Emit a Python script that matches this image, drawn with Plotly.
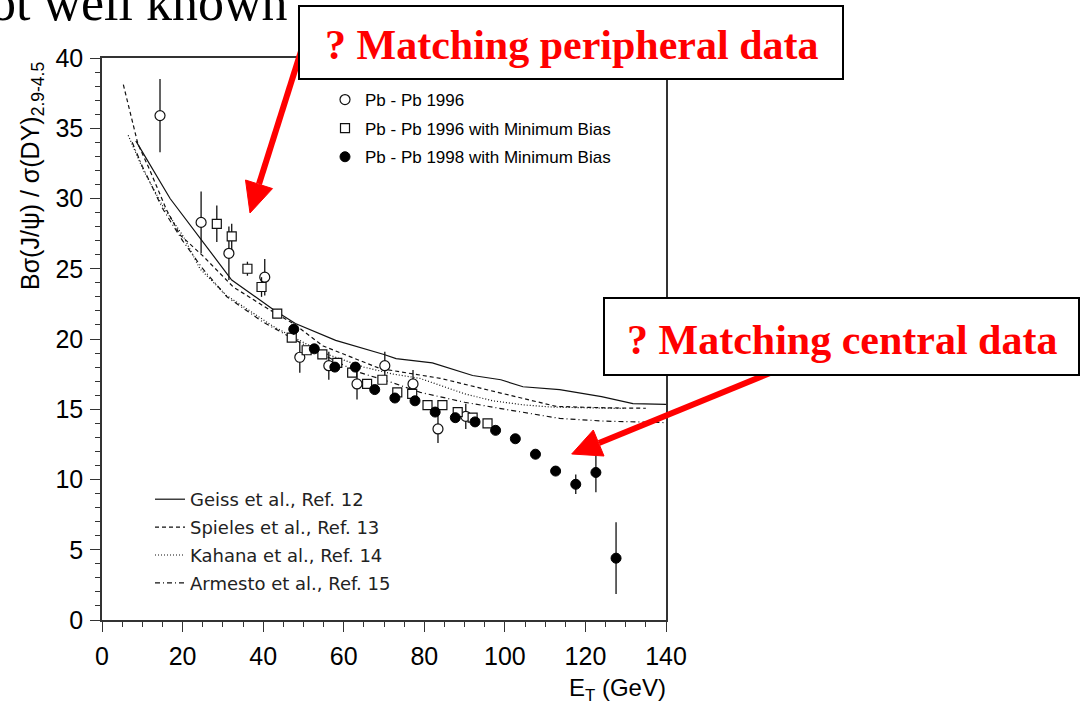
import plotly.graph_objects as go

# ---------------- data ----------------
pb96_et = [14.4, 24.6, 31.5, 40.4, 49.1, 56.3, 63.3, 70.2, 77.2, 83.4, 90.3]
pb96_val = [35.9, 28.3, 26.1, 24.4, 18.7, 18.1, 16.8, 18.1, 16.8, 13.6, 14.5]
pb96_err = [2.6, 2.2, 1.9, 1.3, 1.1, 1.0, 1.1, 1.0, 1.0, 1.0, 0.9]

pb96mb_et = [28.5, 32.2, 36.1, 39.6, 43.5, 47.1, 50.8, 54.7, 58.4, 62.1,
             65.8, 69.6, 73.3, 77.0, 80.8, 84.5, 88.3, 92.0, 95.7]
pb96mb_val = [28.2, 27.3, 25.0, 23.7, 21.8, 20.1, 19.2, 18.9, 18.3, 17.6,
              16.8, 17.1, 16.2, 16.1, 15.3, 15.3, 14.8, 14.4, 14.0]
pb96mb_err = [1.3, 0.9, 0.5, 0.7, 0.3, 0.3, 0.3, 0.3, 0.3, 0.3,
              0.3, 0.3, 0.3, 0.3, 0.3, 0.3, 0.3, 0.3, 0.3]

pb98mb_et = [47.6, 52.7, 57.8, 62.9, 67.7, 72.7, 77.7, 82.7, 87.7, 92.6,
             97.7, 102.6, 107.6, 112.6, 117.6, 122.6, 127.6]
pb98mb_val = [20.7, 19.3, 18.0, 18.0, 16.4, 15.8, 15.6, 14.8, 14.4, 14.1,
              13.5, 12.9, 11.8, 10.6, 9.66, 10.5, 4.4]
pb98mb_err = [0.4, 0.3, 0.3, 0.3, 0.3, 0.3, 0.3, 0.3, 0.3, 0.3,
              0.3, 0.3, 0.3, 0.3, 0.7, 1.4, 2.55]

geiss_et = [8.4, 16.9, 32.2, 42.5, 48, 58, 70, 73, 82, 92, 99, 104.5, 113.6, 124, 131.8, 140]
geiss_val = [34.1, 30.0, 24.2, 22.1, 21.1, 19.9, 18.9, 18.6, 18.3, 17.4, 17.1, 16.6, 16.4, 15.9, 15.4, 15.35]

spieles_et = [5.3, 8.9, 11.9, 16, 19.4, 25.1, 32.6, 40.9, 47.5, 54.9, 69, 84, 99, 112.8, 125, 135]
spieles_val = [38.1, 33.9, 32.0, 29.2, 27.4, 25.9, 23.7, 22.2, 21.1, 19.5, 17.9, 17.2, 16.15, 15.2, 15.1, 15.07]

kahana_et = [6.5, 10.3, 15.2, 20.2, 24.3, 30.9, 42.5, 55, 65, 72.3, 78.9, 84, 90, 97, 105, 112, 122, 130]
kahana_val = [34.5, 32.0, 29.4, 27.3, 25.0, 23.1, 20.9, 19.0, 18.0, 17.5, 17.2, 16.7, 16.1, 15.6, 15.3, 15.15, 15.1, 15.05]

armesto_et = [7.5, 10, 15, 20, 25, 31, 40, 45, 52, 63, 72, 79, 84, 90, 100, 113.6, 125, 140]
armesto_val = [34.0, 32.3, 29.3, 27.0, 25.0, 23.0, 21.2, 20.4, 19.3, 17.7, 16.9, 16.2, 15.9, 15.5, 15.0, 14.35, 14.15, 14.05]

x_ticks = [0, 20, 40, 60, 80, 100, 120, 140]
y_ticks = [0, 5, 10, 15, 20, 25, 30, 35, 40]

# ---------------- layout helpers (pixel -> paper) ----------------
W, H = 1085, 708
L, R, T, B = 102, 666, 58, 620


def px(x):
    return (x - L) / (R - L)


def py(y):
    return (B - y) / (B - T)


fig = go.Figure()

line_specs = [
    ("Geiss et al., Ref. 12", geiss_et, geiss_val, "solid"),
    ("Spieles et al., Ref. 13", spieles_et, spieles_val, "4px,3px"),
    ("Kahana et al., Ref. 14", kahana_et, kahana_val, "1px,2px"),
    ("Armesto et al., Ref. 15", armesto_et, armesto_val, "5px,3px,1px,3px"),
]
for i, (name, xs, ys, dash) in enumerate(line_specs):
    fig.add_trace(go.Scatter(
        x=xs, y=ys, mode="lines", name=name, legend="legend2",
        legendgroup="l%d" % i,
        line=dict(color="#111", width=1.2, dash=dash),
    ))

err_style = dict(type="data", color="#111", thickness=1.3, width=0)
fig.add_trace(go.Scatter(
    x=pb96_et, y=pb96_val, mode="markers", name="Pb - Pb 1996", legendgroup="m1",
    error_y=dict(array=pb96_err, **err_style),
    marker=dict(symbol="circle", size=10, color="white", line=dict(color="#111", width=1.2)),
))
fig.add_trace(go.Scatter(
    x=pb96mb_et, y=pb96mb_val, mode="markers", name="Pb - Pb 1996 with Minimum Bias",
    legendgroup="m2",
    error_y=dict(array=pb96mb_err, **err_style),
    marker=dict(symbol="square", size=9, color="white", line=dict(color="#111", width=1.2)),
))
fig.add_trace(go.Scatter(
    x=pb98mb_et, y=pb98mb_val, mode="markers", name="Pb - Pb 1998 with Minimum Bias",
    legendgroup="m3",
    error_y=dict(array=pb98mb_err, **err_style),
    marker=dict(symbol="circle", size=10, color="black", line=dict(color="black", width=1)),
))

axis_common = dict(
    showgrid=False, zeroline=False, showline=True, mirror=True,
    linecolor="#333", linewidth=1.5, ticks="outside", ticklen=10, tickwidth=1.2,
    tickcolor="#333",
    tickfont=dict(family="Liberation Sans, Arial", size=25, color="black"),
)
fig.update_xaxes(range=[0, 140], tickvals=x_ticks, ticktext=[str(v) for v in x_ticks],
                 minor=dict(dtick=5, ticklen=5, ticks="outside", tickcolor="#333"),
                 ticklabelstandoff=3, **axis_common)
fig.update_yaxes(range=[0, 40], tickvals=y_ticks, ticktext=[str(v) for v in y_ticks],
                 minor=dict(dtick=1, ticklen=5, ticks="outside", tickcolor="#333"),
                 ticklabelstandoff=2, **axis_common)

red = "#ff0000"
shapes = []
# arrow 1 (peripheral)
shapes.append(dict(type="line", xref="paper", yref="paper",
                   x0=px(303), y0=py(45), x1=px(259), y1=py(184),
                   line=dict(color=red, width=6), layer="above"))
shapes.append(dict(type="path", xref="paper", yref="paper", layer="above",
                   path="M %f,%f L %f,%f L %f,%f Z" % (px(250), py(213), px(245.5), py(180), px(272.5), py(188.6)),
                   fillcolor=red, line=dict(color=red, width=1)))
# arrow 2 (central)
shapes.append(dict(type="line", xref="paper", yref="paper",
                   x0=px(775), y0=py(371), x1=px(599), y1=py(443),
                   line=dict(color=red, width=6), layer="above"))
shapes.append(dict(type="path", xref="paper", yref="paper", layer="above",
                   path="M %f,%f L %f,%f L %f,%f Z" % (px(571.7), py(454), px(593.3), py(430), px(604), py(456)),
                   fillcolor=red, line=dict(color=red, width=1)))
# boxes
shapes.append(dict(type="rect", xref="paper", yref="paper", layer="above",
                   x0=px(299), x1=px(843), y0=py(79), y1=py(6),
                   fillcolor="white", line=dict(color="black", width=2)))
shapes.append(dict(type="rect", xref="paper", yref="paper", layer="above",
                   x0=px(604), x1=px(1079), y0=py(375), y1=py(298),
                   fillcolor="white", line=dict(color="black", width=2)))

annotations = [
    dict(text="not well known", x=px(290), y=py(2), xref="paper", yref="paper",
         xanchor="right", yanchor="middle", showarrow=False,
         font=dict(family="Liberation Serif", size=52, color="black")),
    dict(text="<b>? Matching peripheral data</b>", x=px(571), y=py(45), xref="paper", yref="paper",
         xanchor="center", yanchor="middle", showarrow=False,
         font=dict(family="Liberation Serif", size=42, color=red)),
    dict(text="<b>? Matching central data</b>", x=px(842), y=py(340), xref="paper", yref="paper",
         xanchor="center", yanchor="middle", showarrow=False,
         font=dict(family="Liberation Serif", size=42, color=red)),
    dict(text="Bσ(J/ψ) / σ(DY)<sub>2.9-4.5</sub>", x=px(32), y=py(176), xref="paper", yref="paper",
         xanchor="center", yanchor="middle", textangle=-90, showarrow=False,
         font=dict(family="Liberation Sans, Arial", size=25, color="black")),
    dict(text="E<sub>T</sub> (GeV)", x=px(668), y=py(689), xref="paper", yref="paper",
         xanchor="right", yanchor="middle", showarrow=False,
         font=dict(family="Liberation Sans, Arial", size=24, color="black")),
]

fig.update_layout(
    width=W, height=H,
    margin=dict(l=L, r=W - R, t=T, b=H - B, pad=0),
    paper_bgcolor="white", plot_bgcolor="white",
    showlegend=True,
    legend=dict(x=px(325), y=py(82), xanchor="left", yanchor="top",
                bgcolor="rgba(0,0,0,0)", traceorder="grouped", tracegroupgap=3.5,
                font=dict(family="Liberation Sans, Arial", size=17, color="black")),
    legend2=dict(x=px(150), y=py(481), xanchor="left", yanchor="top",
                 bgcolor="rgba(0,0,0,0)", traceorder="grouped", tracegroupgap=1.5,
                 font=dict(family="DejaVu Sans", size=18, color="#222")),
    shapes=shapes,
    annotations=annotations,
)

fig.write_html("out.html")
